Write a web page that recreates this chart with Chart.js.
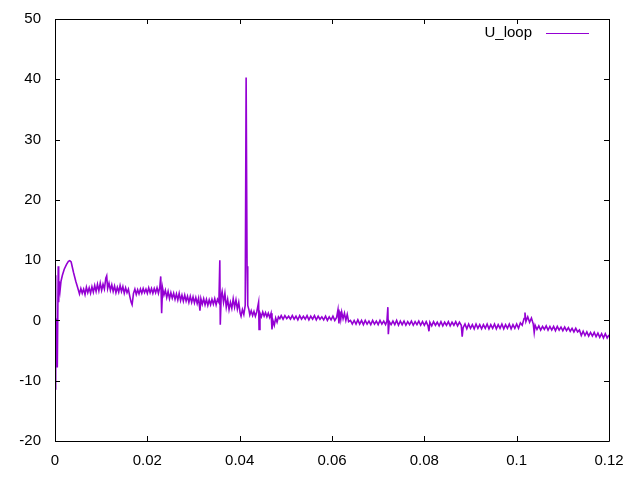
<!DOCTYPE html>
<html>
<head>
<meta charset="utf-8">
<script src="https://cdn.jsdelivr.net/npm/chart.js@4/dist/chart.umd.min.js"></script>
<style>
  html, body { margin: 0; padding: 0; background: #fff; }
  #chart { display: block; }
</style>
</head>
<body>
<canvas id="chart" width="640" height="480"></canvas>
<script>
const SERIES_LABEL = 'U_loop';
const SERIES_COLOR = '#9400d3';

const xTickLabels = ['0', '0.02', '0.04', '0.06', '0.08', '0.1', '0.12'];
const yTickValues = [-20, -10, 0, 10, 20, 30, 40, 50];

// sample times (s)
const timeS = [
  0.0000, 0.0001, 0.0002, 0.0003, 0.0004, 0.0005, 0.0007, 0.0008, 0.0009, 0.0011,
  0.0013, 0.0016, 0.0020, 0.0025, 0.0029, 0.0032, 0.0035, 0.0040, 0.0045, 0.0050,
  0.0053, 0.0056, 0.0059, 0.0062, 0.0065, 0.0068, 0.0071, 0.0074, 0.0077, 0.0080,
  0.0083, 0.0086, 0.0089, 0.0092, 0.0095, 0.0098, 0.0101, 0.0104, 0.0107, 0.0110,
  0.0112, 0.0114, 0.0117, 0.0120, 0.0123, 0.0126, 0.0129, 0.0132, 0.0135, 0.0138,
  0.0141, 0.0144, 0.0147, 0.0150, 0.0153, 0.0156, 0.0159, 0.0162, 0.0165, 0.0167,
  0.0170, 0.0173, 0.0176, 0.0179, 0.0182, 0.0185, 0.0188, 0.0191, 0.0194, 0.0197,
  0.0200, 0.0203, 0.0206, 0.0209, 0.0212, 0.0215, 0.0218, 0.0221, 0.0224, 0.0227,
  0.0229, 0.0231, 0.0233, 0.0236, 0.0239, 0.0242, 0.0245, 0.0248, 0.0251, 0.0254,
  0.0257, 0.0260, 0.0263, 0.0266, 0.0269, 0.0272, 0.0275, 0.0278, 0.0281, 0.0284,
  0.0287, 0.0290, 0.0293, 0.0296, 0.0299, 0.0302, 0.0305, 0.0308, 0.0311, 0.0314,
  0.0316, 0.0319, 0.0322, 0.0325, 0.0328, 0.0331, 0.0334, 0.0337, 0.0340, 0.0343,
  0.0346, 0.0349, 0.0352, 0.0355, 0.0357, 0.0358, 0.0360, 0.0362, 0.0365, 0.0368,
  0.0371, 0.0374, 0.0377, 0.0380, 0.0383, 0.0386, 0.0389, 0.0392, 0.0395, 0.0398,
  0.0401, 0.0403, 0.0406, 0.0409, 0.0412, 0.0414, 0.0416, 0.0417, 0.0418, 0.0420,
  0.0422, 0.0425, 0.0428, 0.0431, 0.0434, 0.0437, 0.0441, 0.0442, 0.0444, 0.0447,
  0.0450, 0.0453, 0.0456, 0.0459, 0.0462, 0.0465, 0.0468, 0.0470, 0.0472, 0.0475,
  0.0478, 0.0481, 0.0484, 0.0487, 0.0490, 0.0494, 0.0498, 0.0502, 0.0506, 0.0510,
  0.0514, 0.0518, 0.0522, 0.0526, 0.0530, 0.0534, 0.0538, 0.0542, 0.0546, 0.0550,
  0.0554, 0.0558, 0.0562, 0.0566, 0.0570, 0.0574, 0.0578, 0.0582, 0.0586, 0.0590,
  0.0594, 0.0598, 0.0602, 0.0606, 0.0610, 0.0613, 0.0615, 0.0617, 0.0619, 0.0621,
  0.0624, 0.0627, 0.0630, 0.0633, 0.0636, 0.0640, 0.0644, 0.0648, 0.0652, 0.0656,
  0.0660, 0.0664, 0.0668, 0.0672, 0.0676, 0.0680, 0.0684, 0.0688, 0.0692, 0.0696,
  0.0700, 0.0704, 0.0708, 0.0712, 0.0716, 0.0719, 0.0721, 0.0722, 0.0724, 0.0728,
  0.0732, 0.0736, 0.0740, 0.0744, 0.0748, 0.0752, 0.0756, 0.0760, 0.0764, 0.0768,
  0.0772, 0.0776, 0.0780, 0.0784, 0.0788, 0.0792, 0.0796, 0.0800, 0.0804, 0.0808,
  0.0810, 0.0812, 0.0816, 0.0820, 0.0824, 0.0828, 0.0832, 0.0836, 0.0840, 0.0844,
  0.0848, 0.0852, 0.0856, 0.0860, 0.0864, 0.0868, 0.0872, 0.0876, 0.0880, 0.0882,
  0.0884, 0.0888, 0.0892, 0.0896, 0.0900, 0.0904, 0.0908, 0.0912, 0.0916, 0.0920,
  0.0924, 0.0928, 0.0932, 0.0936, 0.0940, 0.0944, 0.0948, 0.0952, 0.0956, 0.0960,
  0.0964, 0.0968, 0.0972, 0.0976, 0.0980, 0.0984, 0.0988, 0.0992, 0.0996, 0.1000,
  0.1004, 0.1008, 0.1012, 0.1016, 0.1018, 0.1020, 0.1024, 0.1028, 0.1032, 0.1036,
  0.1038, 0.1040, 0.1044, 0.1048, 0.1052, 0.1056, 0.1060, 0.1064, 0.1068, 0.1072,
  0.1076, 0.1080, 0.1084, 0.1088, 0.1092, 0.1096, 0.1100, 0.1104, 0.1108, 0.1112,
  0.1116, 0.1120, 0.1124, 0.1128, 0.1132, 0.1136, 0.1140, 0.1144, 0.1148, 0.1152,
  0.1156, 0.1160, 0.1164, 0.1168, 0.1172, 0.1176, 0.1180, 0.1184, 0.1188, 0.1192,
  0.1196, 0.1200,
];

// U_loop values at those times
const uLoop = [
  7.5, -11.5, 0.5, -7.5, 0.3, -7.8, 9.0, 3.0, 6.5, 5.0,
  6.5, 7.5, 8.5, 9.3, 9.8, 9.9, 9.7, 8.0, 6.5, 5.2,
  4.4, 5.3, 4.5, 5.2, 4.3, 5.5, 4.6, 5.4, 4.5, 5.6,
  4.7, 5.8, 4.8, 6.0, 4.9, 6.2, 5.0, 6.0, 5.2, 7.0,
  7.4, 5.3, 6.2, 5.0, 5.9, 4.8, 5.7, 4.6, 5.5, 4.7,
  5.8, 4.8, 5.6, 4.5, 5.4, 4.6, 5.2, 4.0, 3.0, 2.6,
  4.5, 5.2, 4.3, 5.1, 4.4, 5.2, 4.5, 5.3, 4.6, 5.2,
  4.5, 5.4, 4.6, 5.3, 4.5, 5.3, 4.6, 5.4, 4.5, 5.5,
  7.3, 1.2, 5.4, 4.2, 5.0, 3.8, 4.8, 3.6, 4.6, 3.7,
  4.5, 3.5, 4.4, 3.4, 4.5, 3.3, 4.2, 3.2, 4.2, 3.2,
  4.0, 3.0, 4.0, 3.0, 3.9, 2.9, 3.8, 2.8, 3.7, 1.6,
  3.6, 2.7, 3.6, 2.6, 3.5, 2.5, 3.4, 2.6, 3.5, 2.7,
  3.6, 2.6, 3.5, 3.0, 10.0, -0.7, 4.0, 4.8, 3.0, 4.5,
  2.2, 3.5, 1.8, 3.0, 2.0, 3.6, 2.2, 3.4, 1.9, 3.0,
  1.2, 0.7, 1.8, 1.0, 2.5, 40.3, 9.0, 3.0, 2.5, 1.8,
  0.9, 1.6, 0.8, 1.5, 0.7, 1.4, 3.0, -1.5, 1.2, 0.6,
  1.4, 0.7, 1.3, 0.6, 1.2, 0.5, 1.2, -1.5, 0.0, -0.8,
  0.4, -0.3, 0.6, 0.3, 0.8, 0.2, 0.8, 0.3, 0.7, 0.2,
  0.8, 0.2, 0.7, 0.1, 0.8, 0.2, 0.7, 0.2, 0.8, 0.1,
  0.7, 0.2, 0.8, 0.1, 0.7, 0.2, 0.6, 0.1, 0.7, 0.0,
  0.6, 0.1, 0.7, 0.0, 0.5, 1.8, -0.5, 1.5, 0.2, 1.4,
  0.3, 1.2, 0.0, 1.0, -0.2, 0.0, -0.6, 0.0, -0.6, 0.1,
  -0.6, 0.0, -0.7, 0.0, -0.6, -0.1, -0.7, 0.0, -0.6, -0.1,
  -0.7, 0.0, -0.6, -0.1, -0.7, -0.1, 2.2, -2.3, -0.2, -0.7,
  -0.1, -0.7, 0.0, -0.8, -0.1, -0.7, -0.1, -0.8, -0.2, -0.7,
  -0.1, -0.8, -0.2, -0.7, -0.1, -0.8, -0.2, -0.8, -0.2, -0.9,
  -1.8, -0.3, -0.9, -0.2, -0.8, -0.3, -0.9, -0.2, -0.9, -0.3,
  -0.8, -0.2, -0.9, -0.3, -0.8, -0.2, -0.9, -0.3, -0.8, -2.7,
  -1.2, -0.6, -1.4, -0.6, -1.3, -0.7, -1.4, -0.6, -1.3, -0.7,
  -1.4, -0.7, -1.3, -0.6, -1.4, -0.7, -1.3, -0.6, -1.4, -0.7,
  -1.3, -0.6, -1.4, -0.7, -1.3, -0.6, -1.4, -0.7, -1.3, -0.6,
  -1.3, -0.4, -0.8, 0.3, 1.3, -0.2, 0.6, -0.3, 0.4, -0.6,
  -2.0, -0.8, -1.5, -0.9, -1.6, -1.0, -1.5, -0.9, -1.6, -1.0,
  -1.6, -1.0, -1.7, -1.0, -1.6, -1.1, -1.7, -1.1, -1.7, -1.2,
  -1.8, -1.3, -1.9, -1.3, -1.9, -1.6, -2.5, -1.8, -2.5, -1.9,
  -2.6, -2.0, -2.6, -2.0, -2.7, -2.1, -2.8, -2.2, -2.9, -2.2,
  -2.9, -2.4,
];

const FONT_FAMILY = '"Liberation Sans", Arial, sans-serif';
const TICK_LEN = 5;

// gnuplot-like frame: box border with inward ticks on all four sides, plus key
const framePlugin = {
  id: 'frame',
  afterDraw(chart) {
    const { ctx, chartArea, scales } = chart;
    const { left, right, top, bottom } = chartArea;
    ctx.save();
    ctx.strokeStyle = '#000';
    ctx.lineWidth = 1;
    ctx.beginPath();
    ctx.rect(Math.round(left) + 0.5, Math.round(top) + 0.5,
      Math.round(right - left), Math.round(bottom - top));
    ctx.stroke();

    ctx.beginPath();
    scales.x.ticks.forEach((tick) => {
      const px = Math.round(scales.x.getPixelForValue(tick.value)) + 0.5;
      ctx.moveTo(px, bottom);
      ctx.lineTo(px, bottom - TICK_LEN);
      ctx.moveTo(px, top);
      ctx.lineTo(px, top + TICK_LEN);
    });
    scales.y.ticks.forEach((tick) => {
      const py = Math.round(scales.y.getPixelForValue(tick.value)) + 0.5;
      ctx.moveTo(left, py);
      ctx.lineTo(left + TICK_LEN, py);
      ctx.moveTo(right, py);
      ctx.lineTo(right - TICK_LEN, py);
    });
    ctx.stroke();

    // key, top right
    const dataset = chart.data.datasets[0];
    ctx.font = `15px ${FONT_FAMILY}`;
    ctx.fillStyle = '#000';
    ctx.textAlign = 'right';
    ctx.textBaseline = 'middle';
    ctx.fillText(dataset.label, right - 77, top + 14);
    ctx.strokeStyle = dataset.borderColor;
    ctx.beginPath();
    ctx.moveTo(right - 63, top + 14.5);
    ctx.lineTo(right - 20, top + 14.5);
    ctx.stroke();
    ctx.restore();
  },
};

new Chart(document.getElementById('chart'), {
  type: 'line',
  data: {
    datasets: [{
      label: SERIES_LABEL,
      data: timeS.map((t, index) => ({ x: t, y: uLoop[index] })),
      borderColor: SERIES_COLOR,
      borderWidth: 1.6,
      pointRadius: 0,
      tension: 0,
      fill: false,
    }],
  },
  options: {
    responsive: false,
    animation: false,
    layout: {
      padding: { left: 0, right: 31, top: 19, bottom: 0 },
    },
    plugins: {
      legend: { display: false },
      tooltip: { enabled: false },
    },
    scales: {
      x: {
        type: 'linear',
        min: 0,
        max: 0.12,
        border: { display: false },
        grid: { display: false, drawTicks: false },
        ticks: {
          stepSize: 0.02,
          padding: 11,
          color: '#000',
          font: { family: FONT_FAMILY, size: 15 },
          maxRotation: 0,
          callback: (value, index) => xTickLabels[index],
        },
        afterFit(scale) {
          scale.height = 39;
        },
      },
      y: {
        type: 'linear',
        min: yTickValues[0],
        max: yTickValues[yTickValues.length - 1],
        border: { display: false },
        grid: { display: false, drawTicks: false },
        ticks: {
          stepSize: 10,
          padding: 14,
          color: '#000',
          font: { family: FONT_FAMILY, size: 15 },
        },
        afterFit(scale) {
          scale.width = 55;
          scale.paddingTop = 0;
          scale.paddingBottom = 0;
        },
      },
    },
  },
  plugins: [framePlugin],
});
</script>
</body>
</html>
